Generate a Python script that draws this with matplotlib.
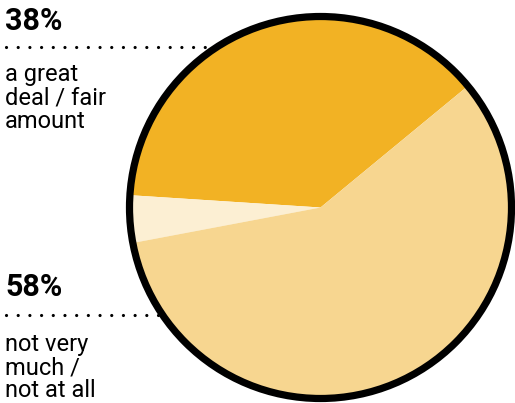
import matplotlib
matplotlib.use("Agg")
import matplotlib.pyplot as plt
from matplotlib.patches import Circle

# data
shares = [38, 4, 58]
colors = ["#F2B224", "#FCEFD3", "#F7D690"]
big_labels = ["38%", "58%"]
small_labels = [["a great", "deal / fair", "amount"],
                ["not very", "much /", "not at all"]]

W, H = 515, 403
fig = plt.figure(figsize=(W / 100, H / 100), dpi=100)
ax = fig.add_axes([0, 0, 1, 1])

cx, cy, r = 320.5, H - 207.5, 191
ax.pie(shares, colors=colors, startangle=39.5, counterclock=True,
       center=(cx, cy), radius=r, frame=True,
       wedgeprops=dict(linewidth=0))
ax.add_patch(Circle((cx, cy), r, fill=False, edgecolor="black",
                    linewidth=5.2, zorder=5))

# labels on the left (pixel positions from top)
big_y = [30, 296]
line_y = [47, 315]
line_end = [205, 162]
small_y = [[81, 104.5, 128], [351, 374, 397]]

for i in range(2):
    ax.text(5, H - big_y[i], big_labels[i], fontsize=22, fontweight="bold",
            family="Roboto", va="baseline", ha="left", color="black")
    ax.plot([6, line_end[i]], [H - line_y[i]] * 2, color="black",
            linewidth=2.3, linestyle=(0, (0.01, 3.65)),
            dash_capstyle="round", zorder=1)
    for t, y in zip(small_labels[i], small_y[i]):
        ax.text(5, H - y, t, fontsize=17, family="Roboto",
                va="baseline", ha="left", color="black")

ax.set_xlim(0, W)
ax.set_ylim(0, H)
ax.set_aspect("equal")
ax.axis("off")

fig.savefig("out.png", dpi=100)
